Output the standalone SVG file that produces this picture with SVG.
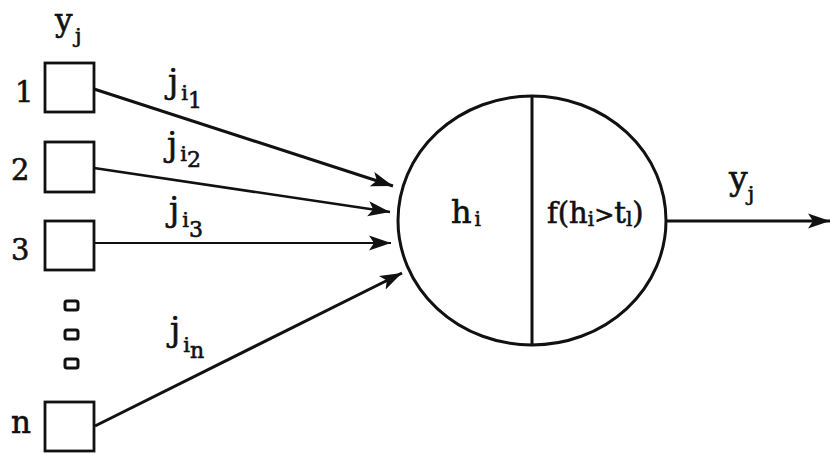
<svg xmlns="http://www.w3.org/2000/svg" width="830" height="453" viewBox="0 0 830 453">
<style>
text{font-family:'DejaVu Serif','Liberation Serif',serif;fill:#111;stroke:#111;stroke-width:0.6}
.lbl{font-size:33px}
.num{font-size:29px}
.sub{font-size:21px}
.sub2{font-size:22px}
.box{fill:#fff;stroke:#111;stroke-width:2.8}
.dot{fill:#fff;stroke:#111;stroke-width:3}
.edge{fill:none;stroke:#111;stroke-width:3}
</style>
<defs>
<marker id="ah" markerUnits="userSpaceOnUse" markerWidth="24" markerHeight="18" refX="22" refY="9" orient="auto">
<path d="M0,1.5 L22,9 L0,16.5 L5,9 Z" fill="#111"/>
</marker>
</defs>
<rect width="830" height="453" fill="#fff"/>
<g id="header"><text x="55" y="31" style="font-size:31px">y</text><text x="75" y="43" style="font-size:21px">j</text></g>
<g id="in1"><rect class="box" x="45" y="63" width="49" height="49"/><text x="15" y="102" class="num">1</text></g>
<g id="in2"><rect class="box" x="45" y="142" width="49" height="50"/><text x="11" y="180" class="num">2</text></g>
<g id="in3"><rect class="box" x="45" y="221" width="49" height="49"/><text x="11" y="260" class="num">3</text></g>
<g id="ellipsis"><rect class="dot" x="65" y="301" width="13" height="9" rx="2"/><rect class="dot" x="65" y="330" width="13" height="9" rx="2"/><rect class="dot" x="65" y="359" width="13" height="9" rx="2"/></g>
<g id="inn"><rect class="box" x="45" y="402" width="49" height="49"/><text x="11" y="433" style="font-size:31px">n</text></g>
<g id="neuron">
<ellipse cx="532" cy="220.5" rx="134" ry="124.5" fill="#fff" stroke="#111" stroke-width="3"/>
<line x1="532" y1="96" x2="532" y2="345" stroke="#111" stroke-width="3"/>
<text x="451" y="223" style="font-size:32px">h<tspan style="font-size:20px" dx="3" dy="3">i</tspan></text>
<text x="547" y="223" style="font-size:29px">f(h<tspan style="font-size:20px" dy="3">i</tspan><tspan dy="-3" style="font-size:24px">&gt;</tspan><tspan>t</tspan><tspan style="font-size:20px" dy="3">l</tspan><tspan dy="-3">)</tspan></text>
</g>
<g id="connectors">
<line class="edge" x1="94" y1="89" x2="393" y2="186" marker-end="url(#ah)"/>
<line class="edge" x1="94" y1="168" x2="390" y2="212" marker-end="url(#ah)" style="stroke-width:2.6"/>
<line class="edge" x1="94" y1="243" x2="391" y2="243" marker-end="url(#ah)" style="stroke-width:2.2"/>
<line class="edge" x1="95" y1="426" x2="402" y2="273" marker-end="url(#ah)"/>
<line class="edge" x1="666" y1="221" x2="830" y2="221" marker-end="url(#ah)"/>
</g>
<g id="labels">
<text x="168" y="93" class="lbl">j<tspan class="sub" dx="3" dy="7">i</tspan><tspan class="sub2" dy="8">1</tspan></text>
<text x="167" y="156" class="lbl">j<tspan class="sub" dx="3" dy="5">i</tspan><tspan class="sub2" dy="6">2</tspan></text>
<text x="169" y="221" class="lbl">j<tspan class="sub" dx="3" dy="6">i</tspan><tspan class="sub2" dy="10">3</tspan></text>
<text x="170" y="341" class="lbl">j<tspan class="sub" dx="3" dy="11">i</tspan><tspan class="sub2" dy="6">n</tspan></text>
<text x="729" y="190" class="lbl">y<tspan style="font-size:21px" dy="11">j</tspan></text>
</g>
</svg>
